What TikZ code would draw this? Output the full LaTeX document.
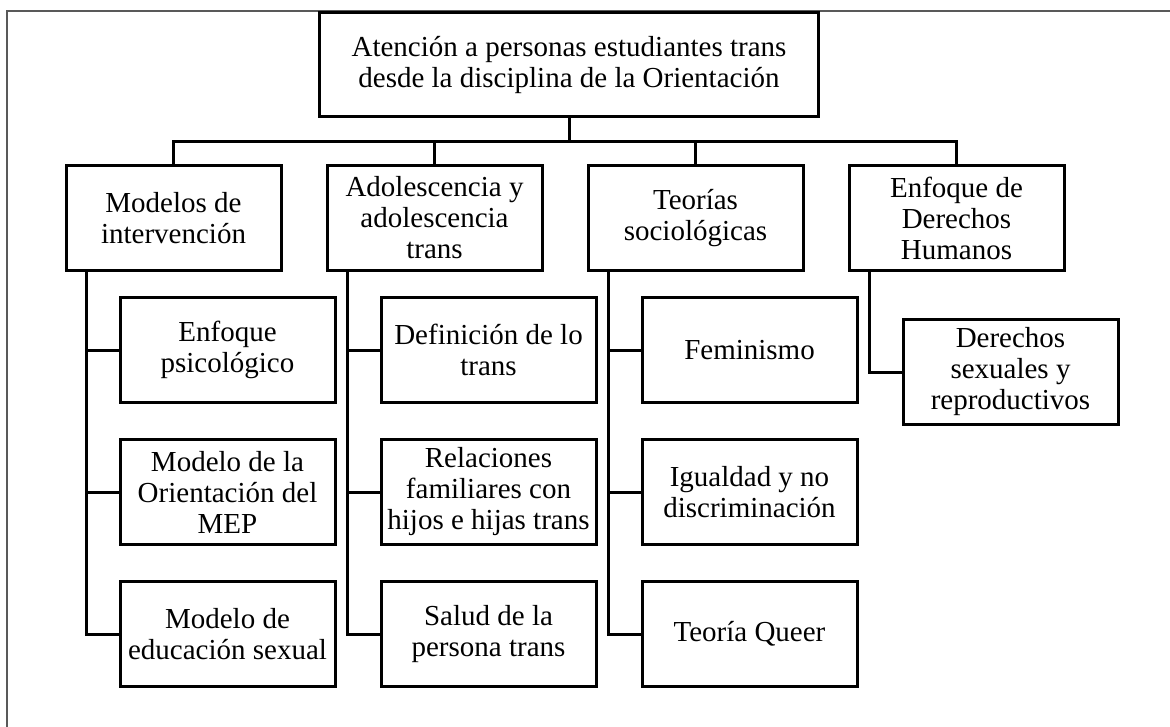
\documentclass[tikz,border=0pt]{standalone}
\usepackage{fontspec}
\setmainfont{Liberation Serif}
\usetikzlibrary{positioning}

\begin{document}
\begin{tikzpicture}[x=1pt, y=-1pt,
	caja/.style={rectangle, draw=black, line width=3pt, minimum width=215pt, minimum height=105pt, align=center, inner sep=2pt, font=\fontsize{29}{31}\selectfont},
	liga/.style={draw=black, line width=3pt}]
	\useasboundingbox (0,0) rectangle (1170,727);
	\draw[black!65, line width=1.4pt] (7,727) |- (1170,11);
	% raiz
	\node (raiz) at (569,65)[caja, minimum width=499pt, minimum height=104pt]{Atención a personas estudiantes trans\\desde la disciplina de la Orientación};
	% primer nivel
	\node (mod) at (173.5,218)[caja]{Modelos de\\intervención};
	\node (ado) [caja, right=43pt of mod]{Adolescencia y\\adolescencia\\trans};
	\node (teo) [caja, right=43pt of ado]{Teorías\\sociológicas};
	\node (der) [caja, right=43pt of teo]{Enfoque de\\Derechos\\Humanos};
	% segundo nivel
	\node (c11) [caja, below=24pt of mod, xshift=54pt]{Enfoque\\psicológico};
	\node (c12) [caja, below=34pt of c11]{Modelo de la\\Orientación del\\MEP};
	\node (c13) [caja, below=34pt of c12]{Modelo de\\educación sexual};
	\node (c21) [caja, below=24pt of ado, xshift=54pt]{Definición de lo\\trans};
	\node (c22) [caja, below=34pt of c21]{Relaciones\\familiares con\\hijos e hijas trans};
	\node (c23) [caja, below=34pt of c22]{Salud de la\\persona trans};
	\node (c31) [caja, below=24pt of teo, xshift=54pt]{Feminismo};
	\node (c32) [caja, below=34pt of c31]{Igualdad y no\\discriminación};
	\node (c33) [caja, below=34pt of c32]{Teoría Queer};
	\node (c41) [caja, below=46pt of der, xshift=54pt]{Derechos\\sexuales y\\reproductivos};
	% conectores
	\coordinate (bus) at (569,141.5);
	\draw[liga] (raiz.south) -- (raiz.south |- bus);
	\draw[liga] (mod.north) -- (mod.north |- bus) -- (der.north |- bus) -- (der.north);
	\draw[liga] (ado.north) -- (ado.north |- bus);
	\draw[liga] (teo.north) -- (teo.north |- bus);
	\foreach \p/\c in {mod/c11, mod/c12, mod/c13, ado/c21, ado/c22, ado/c23, teo/c31, teo/c32, teo/c33, der/c41}
		\draw[liga] ([xshift=22pt]\p.south west) |- (\c.west);
\end{tikzpicture}
\end{document}
